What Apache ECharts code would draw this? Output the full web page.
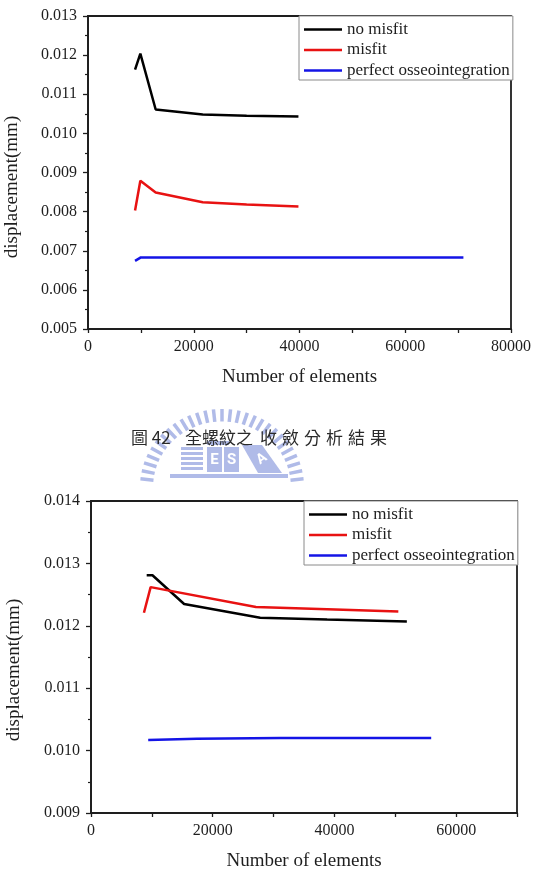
<!DOCTYPE html>
<html>
<head>
<meta charset="utf-8">
<title>收斂分析</title>
<script src="https://cdn.jsdelivr.net/npm/echarts@6/dist/echarts.min.js"></script>
<style>
  html, body { margin: 0; padding: 0; background: #fff; }
  #chart { width: 534px; height: 888px; }
</style>
</head>
<body>
<div id="chart"></div>
<script>
// series names
const names = ['no misfit', 'misfit', 'perfect osseointegration'];

// top chart (x: number of elements, y: displacement in mm)
const noMisfit1X = [8900, 9900, 12800, 21700, 30000, 39800];
const noMisfit1Y = [0.01163, 0.01204, 0.01061, 0.01048, 0.01045, 0.01043];
const misfit1X = [8900, 9900, 12800, 21700, 30000, 39800];
const misfit1Y = [0.00803, 0.00879, 0.00849, 0.00824, 0.00818, 0.00813];
const perfect1X = [8900, 10000, 12800, 21700, 39800, 71000];
const perfect1Y = [0.00674, 0.00683, 0.00683, 0.00683, 0.00683, 0.00683];

// bottom chart
const noMisfit2X = [9150, 10100, 15300, 27800, 38800, 51900];
const noMisfit2Y = [0.01281, 0.01281, 0.01235, 0.01213, 0.01210, 0.01207];
const misfit2X = [8700, 9800, 27100, 50500];
const misfit2Y = [0.01221, 0.01262, 0.01230, 0.01223];
const perfect2X = [9400, 17400, 31100, 55900];
const perfect2Y = [0.01017, 0.01019, 0.01020, 0.01020];

const caption = '圖 42';
const captionA = '全螺紋之';
const captionB = '收斂分析結果';

const colors = ['#000000', '#e81212', '#1414e6'];
const serif = '"Liberation Serif", "Times New Roman", serif';
const ink = '#1e1e1e';

function pairs(xs, ys) {
  return xs.map((x, i) => [x, ys[i]]);
}

function line(name, xs, ys, idx, color) {
  return {
    name: name,
    type: 'line',
    xAxisIndex: idx,
    yAxisIndex: idx,
    data: pairs(xs, ys),
    symbol: 'none',
    smooth: false,
    lineStyle: { color: color, width: 2.5 },
    itemStyle: { color: color },
    animation: false
  };
}

function xAxis(idx, max, interval) {
  return {
    type: 'value',
    gridIndex: idx,
    min: 0,
    max: max,
    interval: interval,
    name: 'Number of elements',
    nameLocation: 'middle',
    nameGap: 39,
    nameTextStyle: { fontFamily: serif, fontSize: 19, color: ink },
    axisLine: { onZero: false, lineStyle: { color: ink, width: 1.8 } },
    axisTick: { length: 4, lineStyle: { color: ink, width: 1.3 } },
    axisLabel: {
      margin: 10,
      fontFamily: serif,
      fontSize: 16,
      color: ink,
      formatter: v => (v % 20000 === 0 ? String(v) : '')
    },
    splitLine: { show: false }
  };
}

function yAxis(idx, min, max) {
  return {
    type: 'value',
    gridIndex: idx,
    min: min,
    max: max,
    interval: 0.001,
    axisLine: { onZero: false, lineStyle: { color: ink, width: 1.8 } },
    axisTick: { length: 5, lineStyle: { color: ink, width: 1.3 } },
    minorTick: { show: true, splitNumber: 2, length: 3, lineStyle: { color: ink, width: 1.2 } },
    axisLabel: {
      margin: 11,
      fontFamily: serif,
      fontSize: 16,
      color: ink,
      formatter: v => v.toFixed(3)
    },
    splitLine: { show: false },
    minorSplitLine: { show: false }
  };
}

function legend(left, top) {
  return {
    data: names,
    orient: 'vertical',
    left: left,
    top: top,
    icon: 'rect',
    itemWidth: 38,
    itemHeight: 2.6,
    itemGap: 3.5,
    padding: [5, 3, 1, 5],
    backgroundColor: '#fff',
    borderColor: '#8a8a8a',
    borderWidth: 1,
    textStyle: { fontFamily: serif, fontSize: 17, color: ink },
    selectedMode: false
  };
}

// watermark logo behind the caption (decoration)
function logo() {
  const els = [];
  const cx = 222, cy = 487, rx = 82, ry = 78;
  const c = '#b0bbe8';
  for (let a = 6; a <= 174; a += 6) {
    const t = a * Math.PI / 180;
    els.push({
      type: 'line',
      shape: {
        x1: cx + Math.cos(t) * rx * 0.84, y1: cy - Math.sin(t) * ry * 0.84,
        x2: cx + Math.cos(t) * rx, y2: cy - Math.sin(t) * ry
      },
      style: { stroke: c, lineWidth: 3.5 },
      z: 1
    });
  }
  // striped block
  for (let i = 0; i < 5; i++) {
    els.push({ type: 'rect', shape: { x: 181, y: 447 + i * 5, width: 22, height: 3 }, style: { fill: c }, z: 1 });
  }
  els.push({ type: 'rect', shape: { x: 207, y: 441, width: 22, height: 4 }, style: { fill: c }, z: 1 });
  els.push({ type: 'rect', shape: { x: 207, y: 447, width: 15, height: 25 }, style: { fill: c }, z: 1 });
  els.push({ type: 'rect', shape: { x: 224, y: 447, width: 15, height: 25 }, style: { fill: c }, z: 1 });
  els.push({ type: 'text', x: 214.5, y: 460, style: { text: 'E', fill: '#fff', font: 'bold 15px Roboto', align: 'center', verticalAlign: 'middle' }, z: 2 });
  els.push({ type: 'text', x: 231.5, y: 460, style: { text: 'S', fill: '#fff', font: 'bold 15px Roboto', align: 'center', verticalAlign: 'middle' }, z: 2 });
  els.push({ type: 'polygon', shape: { points: [[242, 445], [262, 445], [282, 473], [258, 473]] }, style: { fill: c }, z: 1 });
  els.push({ type: 'text', x: 262, y: 459, rotation: 0.6, style: { text: 'A', fill: '#fff', font: 'bold 14px Roboto', align: 'center', verticalAlign: 'middle' }, z: 2 });
  els.push({ type: 'rect', shape: { x: 170, y: 474, width: 118, height: 4 }, style: { fill: c }, z: 1 });
  return els;
}

function captionText() {
  const els = [];
  const font = '17px "Noto Sans CJK TC"';
  els.push({ type: 'text', x: 131, y: 438, style: { text: caption, fill: '#2a2a2a', font: font, verticalAlign: 'middle' }, z: 5 });
  els.push({ type: 'text', x: 185, y: 438, style: { text: captionA, fill: '#2a2a2a', font: font, verticalAlign: 'middle' }, z: 5 });
  captionB.split('').forEach((ch, i) => {
    els.push({ type: 'text', x: 260 + i * 22, y: 438, style: { text: ch, fill: '#2a2a2a', font: font, verticalAlign: 'middle' }, z: 5 });
  });
  return els;
}

function yName(x, y) {
  return {
    type: 'text', x: x, y: y, rotation: Math.PI / 2,
    style: { text: 'displacement(mm)', fill: ink, font: '19px ' + serif, align: 'center', verticalAlign: 'middle' },
    z: 5
  };
}

const chart = echarts.init(document.getElementById('chart'), null, { renderer: 'canvas' });

chart.setOption({
  backgroundColor: '#ffffff',
  animation: false,
  grid: [
    { left: 88, top: 16, width: 426, height: 313, show: true, borderColor: ink, borderWidth: 1.8, backgroundColor: 'transparent' },
    { left: 91, top: 501, width: 426, height: 312, show: true, borderColor: ink, borderWidth: 1.8, backgroundColor: 'transparent' }
  ],
  xAxis: [xAxis(0, 80000, 10000), xAxis(1, 70000, 10000)],
  yAxis: [yAxis(0, 0.005, 0.013), yAxis(1, 0.009, 0.014)],
  legend: [legend(299, 16), legend(304, 501)],
  series: [
    line(names[0], noMisfit1X, noMisfit1Y, 0, colors[0]),
    line(names[1], misfit1X, misfit1Y, 0, colors[1]),
    line(names[2], perfect1X, perfect1Y, 0, colors[2]),
    line(names[0], noMisfit2X, noMisfit2Y, 1, colors[0]),
    line(names[1], misfit2X, misfit2Y, 1, colors[1]),
    line(names[2], perfect2X, perfect2Y, 1, colors[2])
  ],
  graphic: [].concat(logo(), captionText(), [yName(12, 187), yName(14, 670)])
});
</script>
</body>
</html>
